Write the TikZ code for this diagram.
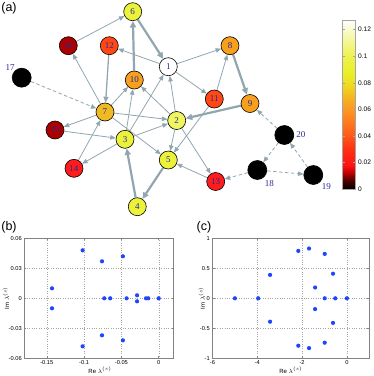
\documentclass[tikz,border=0pt]{standalone}
\usepackage{fontspec}
\setmainfont{Liberation Serif}
\setsansfont{Liberation Sans}
\usepackage{tikz}
\usetikzlibrary{arrows.meta, positioning, backgrounds}
\definecolor{cEdge}{RGB}{146,166,176}
\definecolor{cNum}{RGB}{40,40,150}
\definecolor{cFrame}{RGB}{130,130,130}
\definecolor{cGrid}{RGB}{165,165,165}
\definecolor{cDot}{RGB}{30,70,255}
\definecolor{hPale}{RGB}{240,246,95}
\definecolor{hYel}{RGB}{236,242,58}
\definecolor{hGold}{RGB}{240,186,35}
\definecolor{hOrange}{RGB}{246,160,30}
\definecolor{hRedOr}{RGB}{255,72,20}
\definecolor{hRed}{RGB}{255,28,28}
\definecolor{hDark}{RGB}{172,0,0}
% colour bar stops
\definecolor{cbA}{RGB}{80,0,0}
\definecolor{cbB}{RGB}{200,0,0}
\definecolor{cbC}{RGB}{255,20,20}
\definecolor{cbD}{RGB}{255,50,20}
\definecolor{cbE}{RGB}{255,100,25}
\definecolor{cbF}{RGB}{255,140,32}
\definecolor{cbG}{RGB}{245,180,32}
\definecolor{cbH}{RGB}{238,220,32}
\definecolor{cbI}{RGB}{232,240,40}
\definecolor{cbJ}{RGB}{238,242,80}
\definecolor{cbK}{RGB}{245,248,160}
\pgfdeclareverticalshading{heatbar}{100bp}{color(0bp)=(black); color(25bp)=(black); color(27.6bp)=(cbA); color(30bp)=(cbB); color(32bp)=(cbC); color(37bp)=(cbD); color(42bp)=(cbE); color(47bp)=(cbF); color(52bp)=(cbG); color(56bp)=(cbH); color(59.5bp)=(cbI); color(64.5bp)=(cbJ); color(69.5bp)=(cbK); color(75bp)=(white); color(100bp)=(white)}
\tikzset{
	vtx/.style={circle, draw=black, line width=0.6pt, minimum size=18pt, inner sep=0pt, text=cNum, font=\fontsize{9}{9}\selectfont},
	sink/.style={vtx, fill=black, minimum size=19pt},
	lbl/.style={text=cNum, inner sep=0pt, font=\fontsize{9}{9}\selectfont},
	lnk/.style={draw=cEdge, line width=0.8pt, -{Triangle[length=5.5pt, width=4.5pt]}},
	lnkmid/.style={lnk, line width=1.3pt, -{Triangle[length=6pt, width=5pt]}},
	lnkbig/.style={lnk, line width=2.2pt, -{Triangle[length=6.5pt, width=6pt]}},
	lnkdash/.style={lnk, dash pattern=on 3.5pt off 2.5pt},
	% eigenvalue plot styles
	frm/.style={draw=cFrame, line width=0.6pt},
	gridln/.style={draw=cGrid, line width=0.4pt, dotted},
	ticklbl/.style={inner sep=0pt, font=\sffamily\fontsize{5.7}{6}\selectfont},
	axlbl/.style={inner sep=0pt, font=\sffamily\fontsize{6}{7}\selectfont},
	panel/.style={inner sep=0pt, font=\sffamily\fontsize{12.5}{13}\selectfont},
	cbarlbl/.style={inner sep=0pt, anchor=west, font=\sffamily\fontsize{6.6}{7}\selectfont},
}
\begin{document}
\begin{tikzpicture}[x=1pt, y=-1pt]
	\useasboundingbox (0,0) rectangle (374,376);
	\node[panel] (pa) at (9,8) {(a)};
	\node[panel] (pb) at (9,227) {(b)};
	\node[panel] (pc) at (204,227) {(c)};

	\node[vtx, fill=white] (n1) at (168.3,66.7) {1};
	\node[vtx, fill=hPale] (n2) at (176.7,120.5) {2};
	\node[vtx, fill=hYel] (n3) at (125,139.3) {3};
	\node[vtx, fill=hYel] (n4) at (137.3,206.7) {4};
	\node[vtx, fill=hYel] (n5) at (168.3,160) {5};
	\node[vtx, fill=hYel] (n6) at (132.7,11.7) {6};
	\node[vtx, fill=hGold] (n7) at (105,112) {7};
	\node[vtx, fill=hOrange] (n8) at (230,45.7) {8};
	\node[vtx, fill=hOrange] (n9) at (250,103.5) {9};
	\node[vtx, fill=hOrange] (n10) at (134.3,80) {10};
	\node[vtx, fill=hRedOr] (n11) at (214.3,99) {11};
	\node[vtx, fill=hRedOr] (n12) at (109.3,45.7) {12};
	\node[vtx, fill=hRed] (n13) at (215.7,181.5) {13};
	\node[vtx, fill=hRed] (n14) at (74,168.3) {14};
	\node[vtx, fill=hDark] (n15) at (55,130) {15};
	\node[vtx, fill=hDark] (n16) at (68.3,45.7) {16};
	\node[sink, label={[lbl]135:17}] (n17) at (21.7,77.7) {};
	\node[sink, label={[lbl, label distance=3pt]-55:18}] (n18) at (257.3,170) {};
	\node[sink, label={[lbl, label distance=2pt]-45:19}] (n19) at (313.3,175) {};
	\node[sink, label={[lbl, label distance=2pt]0:20}] (n20) at (284.3,135) {};

	\begin{scope}[on background layer]
		\draw[lnk] (n16) -- (n6);
		\draw[lnk] (n1) -- (n12);
		\draw[lnk] (n7) -- (n16);
		\draw[lnk] (n7) -- (n10);
		\draw[lnk] (n3) -- (n10);
		\draw[lnk] (n2) -- (n10);
		\draw[lnk] (n3) -- (n1);
		\draw[lnk] (n2) -- (n1);
		\draw[lnk] (n1) -- (n8);
		\draw[lnk] (n1) -- (n11);
		\draw[lnk] (n11) -- (n8);
		\draw[lnk] (n7) -- (n2);
		\draw[lnk] (n3) -- (n2);
		\draw[lnk] (n7) -- (n5);
		\draw[lnk] (n2) -- (n5);
		\draw[lnk] (n11) -- (n5);
		\draw[lnk] (n13) -- (n5);
		\draw[lnk] (n2) -- (n13);
		\draw[lnk] (n7) -- (n15);
		\draw[lnk] (n15) -- (n3);
		\draw[lnk] (n3) -- (n14);
		\draw[lnk] (n14) -- (n7);
		\draw[lnkmid] (n12) -- (n7);
		\draw[lnkbig] (n6) -- (n1);
		\draw[lnkbig] (n10) -- (n6);
		\draw[lnkbig] (n8) -- (n9);
		\draw[lnkbig] (n9) -- (n2);
		\draw[lnkbig] (n4) -- (n3);
		\draw[lnkbig] (n5) -- (n4);
		\draw[lnkdash] (n17) -- (n7);
		\draw[lnkdash] (n20) -- (n9);
		\draw[lnkdash] (n20) -- (n18);
		\draw[lnkdash] (n18) -- (n19);
		\draw[lnkdash] (n19) -- (n20);
		\draw[lnkdash] (n18) -- (n13);
	\end{scope}

	% colour bar
	\begin{scope}[shift={(342.7,189)}, y=1327.5pt]
		\shade[shading=heatbar] (0,0) rectangle (12.6,0.1273);
		\draw[frm, draw=cGrid] (0,0) rectangle (12.6,0.1273);
		\foreach \v in {0,0.02,0.04,0.06,0.08,0.1,0.12} {
			\draw[frm, draw=cGrid] (0,\v) -- ++(2.5pt,0) (12.6,\v) -- ++(-2.5pt,0);
			\node[cbarlbl] at (15.3,\v) {\v};
		}
	\end{scope}

	% panel (b)
	\begin{scope}[shift={(158.7,298.3)}, x=746pt, y=1000pt]
		\foreach \gx in {-0.15,-0.1,-0.05,0} \draw[gridln] (\gx,-0.06) -- (\gx,0.06);
		\foreach \gy in {-0.03,0,0.03} \draw[gridln] (-0.18,\gy) -- (0.02,\gy);
		\draw[frm] (-0.18,-0.06) rectangle (0.02,0.06);
		\foreach \gx in {-0.15,-0.1,-0.05,0} {
			\draw[frm] (\gx,-0.06) -- ++(0,2pt) (\gx,0.06) -- ++(0,-2pt);
			\node[ticklbl, below=1.8pt] at (\gx,-0.06) {\gx};
		}
		\foreach \gy in {-0.06,-0.03,0,0.03,0.06} {
			\draw[frm] (-0.18,\gy) -- ++(2pt,0) (0.02,\gy) -- ++(-2pt,0);
			\node[ticklbl, left=2.5pt] at (-0.18,\gy) {\gy};
		}
		\foreach \px/\py in {-0.143/0.01,-0.143/-0.01,-0.102/0.048,-0.102/-0.048,-0.076/0.037,-0.076/-0.037,-0.048/0.042,-0.048/-0.042,-0.073/0,-0.065/0,-0.043/0,-0.029/0.003,-0.029/-0.003,-0.017/0,-0.014/0,0/0}
			\fill[cDot] (\px,\py) circle (2.1pt);
		\node[axlbl] at ([yshift=-11.7pt]-0.0787,-0.06) {Re $\lambda^{(s)}$};
		\node[axlbl, rotate=90] at ([xshift=-18.4pt]-0.18,0) {Im $\lambda^{(s)}$};
	\end{scope}

	% panel (c)
	\begin{scope}[shift={(346.9,298.3)}, x=22.4pt, y=60pt]
		\foreach \gx in {-4,-2,0} \draw[gridln] (\gx,-1) -- (\gx,1);
		\foreach \gy in {-0.5,0,0.5} \draw[gridln] (-6,\gy) -- (1,\gy);
		\draw[frm] (-6,-1) rectangle (1,1);
		\foreach \gx in {-6,-4,-2,0} {
			\draw[frm] (\gx,-1) -- ++(0,2pt) (\gx,1) -- ++(0,-2pt);
			\node[ticklbl, below=1.8pt] at (\gx,-1) {\gx};
		}
		\foreach \gy in {-1,-0.5,0,0.5,1} {
			\draw[frm] (-6,\gy) -- ++(2pt,0) (1,\gy) -- ++(-2pt,0);
			\node[ticklbl, left=2.5pt] at (-6,\gy) {\gy};
		}
		\foreach \px/\py in {-5.0/0,-3.96/0,-3.43/0.39,-3.43/-0.39,-2.17/0.79,-2.17/-0.79,-1.69/0.83,-1.69/-0.83,-1.42/0.18,-1.42/-0.18,-0.99/0.74,-0.99/-0.74,-0.99/0,-0.62/0.41,-0.62/-0.41,-0.52/0,0/0}
			\fill[cDot] (\px,\py) circle (2.1pt);
		\node[axlbl] at ([yshift=-11.7pt]-2.5,-1) {Re $\lambda^{(s)}$};
		\node[axlbl, rotate=90] at ([xshift=-10.8pt]-6,0) {Im $\lambda^{(s)}$};
	\end{scope}
\end{tikzpicture}
\end{document}
